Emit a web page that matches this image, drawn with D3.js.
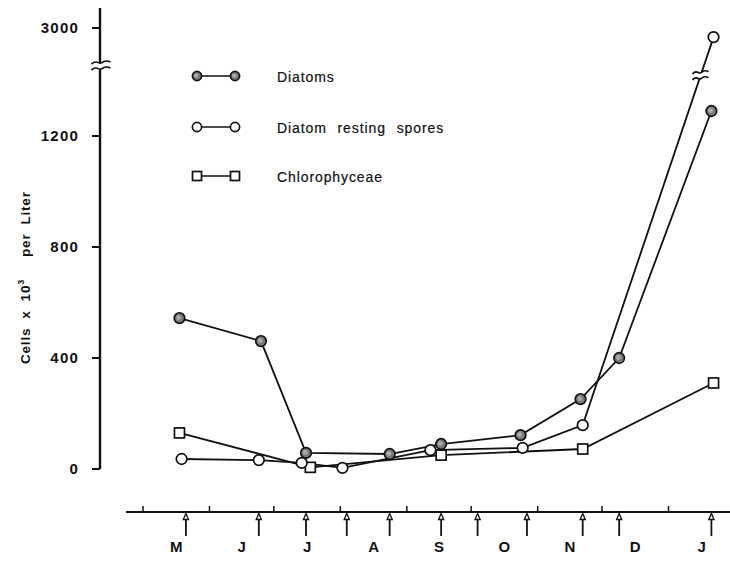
<!DOCTYPE html>
<html><head><meta charset="utf-8">
<script src="https://cdn.jsdelivr.net/npm/d3@7"></script>
<style>body{margin:0;background:#fff}</style>
</head><body><svg id="c" width="730" height="561"></svg>
<script>
// ---- data ----
const monthLabels = ["M","J","J","A","S","O","N","D","J"];
const monthStarts = ["1976-05-01","1976-06-01","1976-07-01","1976-08-01","1976-09-01","1976-10-01","1976-11-01","1976-12-01","1977-01-01","1977-02-01"];
const sampleDates = ["1976-05-21","1976-06-24","1976-07-16","1976-08-04","1976-08-24","1976-09-17","1976-10-04","1976-10-27","1976-11-22","1976-12-09","1977-01-21"];
const diatomDates  = ["1976-05-18","1976-06-25","1976-07-16","1976-08-24","1976-09-17","1976-10-24","1976-11-21","1976-12-09","1977-01-21"];
const diatomValues = [544, 461, 58, 54, 90, 122, 252, 400, 1290];
const sporeDates   = ["1976-05-19","1976-06-24","1976-07-14","1976-08-02","1976-09-12","1976-10-25","1976-11-22","1977-01-22"];
const sporeValues  = [36, 32, 22, 4, 68, 76, 158, 2940];
const chloroDates  = ["1976-05-18","1976-07-18","1976-09-17","1976-11-22","1977-01-22"];
const chloroValues = [130, 6, 50, 72, 310];
const yTickValues = [0, 400, 800, 1200, 3000];
const legendLabels = ["Diatoms", "Diatom resting spores", "Chlorophyceae"];
const axisBreakValue = 1450;

// ---- setup ----
const parse = d3.timeParse("%Y-%m-%d");
const svg = d3.select("#c");
const ink = "#111";
const font = "'Liberation Sans', Arial, sans-serif";

const x = d3.scaleTime()
  .domain([parse(monthStarts[0]), parse(monthStarts[monthStarts.length-1])])
  .range([143, 735]);
// broken axis: linear to the break, compressed gap, then top segment
const y = d3.scaleLinear()
  .domain([0, axisBreakValue, 2750, 3000])
  .range([469, 66.6, 66, 28]);

const zip = (ds, vs) => ds.map((d,i) => ({date: parse(d), value: vs[i]}));
const diatoms = zip(diatomDates, diatomValues);
const spores = zip(sporeDates, sporeValues);
const chloro = zip(chloroDates, chloroValues);

const axisX = 100;
const xAxisY = 512;

// ---- y axis ----
const yAxisTop = 8;
svg.append("line").attr("x1", axisX).attr("x2", axisX)
  .attr("y1", yAxisTop).attr("y2", y(0)).attr("stroke", ink).attr("stroke-width", 2.4);
const yt = svg.append("g");
yTickValues.forEach(v => {
  yt.append("line").attr("x1", axisX-8).attr("x2", axisX).attr("y1", y(v)).attr("y2", y(v))
    .attr("stroke", ink).attr("stroke-width", 2);
  yt.append("text").attr("x", axisX-21).attr("y", y(v)).attr("dy", "0.36em")
    .attr("text-anchor", "end").attr("font-family", font).attr("font-weight", "bold")
    .attr("font-size", 15).attr("letter-spacing", 1.2).attr("fill", ink).text(v);
});

// axis break mark
function breakMark(cx, cy, w) {
  const g = svg.append("g").attr("transform", `translate(${cx},${cy})`);
  const h = w/2;
  g.append("path").attr("d", `M${-h},-2 L${h},-4 L${h},4 L${-h},2 Z`).attr("fill", "#fff");
  [-3, 3].forEach(o => {
    g.append("path")
      .attr("d", `M${-h},${o+1} C${-h/2},${o-4} ${-h/4},${o+1} 0,${o} S${h/2},${o-4} ${h},${o-1}`)
      .attr("fill", "none").attr("stroke", ink).attr("stroke-width", 1.6);
  });
}
breakMark(axisX + 1, y(axisBreakValue) - 0.5, 19);

// y label
const yl = svg.append("text")
  .attr("transform", `translate(30,364) rotate(-90)`)
  .attr("text-anchor", "start").attr("font-family", font).attr("font-weight", "bold")
  .attr("font-size", 13.5).attr("letter-spacing", 0.8).attr("fill", ink);
yl.append("tspan").text("Cells");
yl.append("tspan").attr("dx", 9).text("x");
yl.append("tspan").attr("dx", 9).text("10");
yl.append("tspan").attr("font-size", 9).attr("dy", -6).text("3");
yl.append("tspan").attr("dy", 6).attr("dx", 22).text("per");
yl.append("tspan").attr("dx", 9).text("Liter");

// ---- x axis ----
svg.append("line").attr("x1", 126).attr("x2", 730).attr("y1", xAxisY).attr("y2", xAxisY)
  .attr("stroke", ink).attr("stroke-width", 2);
monthStarts.slice(0, -1).forEach(m => {
  svg.append("line").attr("x1", x(parse(m))).attr("x2", x(parse(m)))
    .attr("y1", xAxisY - 6).attr("y2", xAxisY).attr("stroke", ink).attr("stroke-width", 1.5);
});
monthLabels.forEach((lab, i) => {
  const a = parse(monthStarts[i]), b = parse(monthStarts[i+1]);
  svg.append("text").attr("x", (x(a)+x(b))/2).attr("y", 552)
    .attr("text-anchor", "middle").attr("font-family", font).attr("font-weight", "bold")
    .attr("font-size", 15).attr("fill", ink).text(lab);
});
// sampling arrows
sampleDates.forEach(s => {
  const sx = x(parse(s));
  svg.append("line").attr("x1", sx).attr("x2", sx).attr("y1", 536).attr("y2", 517)
    .attr("stroke", ink).attr("stroke-width", 1.8);
  svg.append("path").attr("d", `M${sx-2.6},${519.5} L${sx},${513.5} L${sx+2.6},${519.5} Z`)
    .attr("fill", "#fff").attr("stroke", ink).attr("stroke-width", 1.3);
});

// ---- series ----
const line = d3.line().x(d => x(d.date)).y(d => y(d.value));
[chloro, spores, diatoms].forEach(s => {
  svg.append("path").datum(s).attr("d", line).attr("fill", "none")
    .attr("stroke", ink).attr("stroke-width", 1.8);
});

// break on the spores line crossing the axis break
(function(){
  const a = spores[spores.length-2], b = spores[spores.length-1];
  const t = 0.9;
  const bx = x(a.date) + t*(x(b.date)-x(a.date));
  const by = y(a.value) + t*(y(b.value)-y(a.value));
  breakMark(bx, by, 16);
})();

function drawCircle(g, cx, cy, r, filled) {
  g.append("circle").attr("cx", cx).attr("cy", cy).attr("r", r)
    .attr("fill", filled ? "#7a7a7a" : "#fff").attr("stroke", ink).attr("stroke-width", 1.7);
  if (filled) {
    g.append("circle").attr("cx", cx-0.8).attr("cy", cy-0.5).attr("r", r*0.45)
      .attr("fill", "#ababab");
  }
}
function drawSquare(g, cx, cy, s) {
  g.append("rect").attr("x", cx - s/2).attr("y", cy - s/2).attr("width", s).attr("height", s)
    .attr("fill", "#fff").attr("stroke", ink).attr("stroke-width", 1.7);
}
const mk = svg.append("g");
chloro.forEach(d => drawSquare(mk, x(d.date), y(d.value), 10));
spores.forEach(d => drawCircle(mk, x(d.date), y(d.value), 5.3, false));
diatoms.forEach(d => drawCircle(mk, x(d.date), y(d.value), 5.3, true));

// ---- legend ----
const lg = svg.append("g");
const legendYs = [76, 127, 176];
legendLabels.forEach((lab, i) => {
  const ly = legendYs[i];
  lg.append("line").attr("x1", 197).attr("x2", 235).attr("y1", ly).attr("y2", ly)
    .attr("stroke", ink).attr("stroke-width", 1.7);
  if (i === 0) { drawCircle(lg, 197, ly, 4.6, true); drawCircle(lg, 235, ly, 4.6, true); }
  if (i === 1) { drawCircle(lg, 197, ly, 4.6, false); drawCircle(lg, 235, ly, 4.6, false); }
  if (i === 2) { drawSquare(lg, 197, ly, 9); drawSquare(lg, 235, ly, 9); }
  lg.append("text").attr("x", 277).attr("y", ly + 1).attr("dy", "0.35em")
    .attr("font-family", font).attr("font-size", 14).attr("letter-spacing", 0.9)
    .attr("word-spacing", 6).attr("stroke", ink).attr("stroke-width", 0.2)
    .attr("fill", ink).text(lab);
});
</script></body></html>
